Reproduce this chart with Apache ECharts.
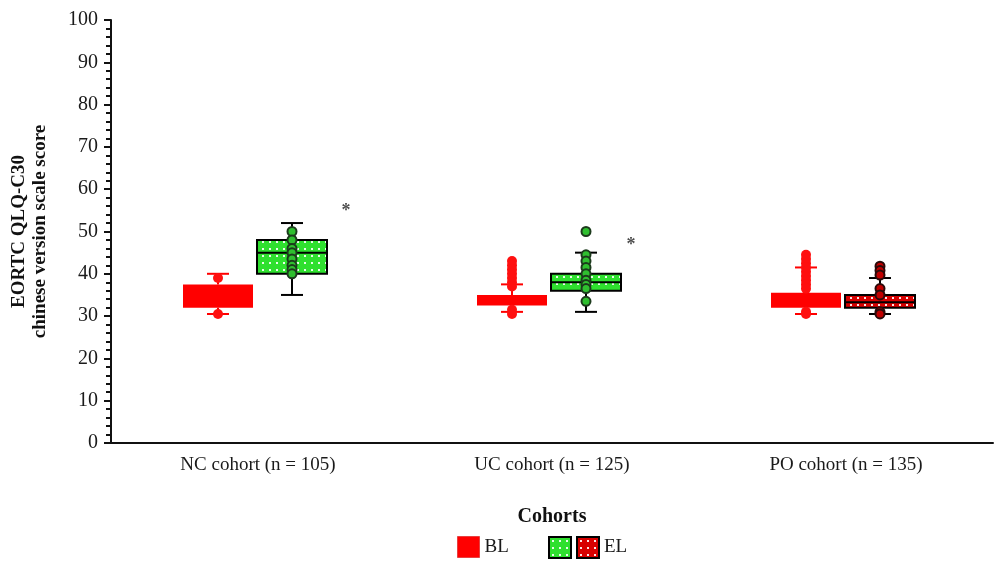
<!DOCTYPE html>
<html>
<head>
<meta charset="utf-8">
<script src="https://cdn.jsdelivr.net/npm/echarts@6/dist/echarts.min.js"></script>
<style>
  html, body { margin: 0; background: #fff; }
  #chart { width: 1000px; height: 562px; }
</style>
</head>
<body>
<div id="chart"></div>
<script>
// categories on the x axis
const categories = ['NC cohort (n = 105)', 'UC cohort (n = 125)', 'PO cohort (n = 135)']

// box summaries: [low, q1, median, q3, high]
const blBoxes = [
  [30.5, 32, 35, 37.5, 40],
  [31, 32.5, 33.5, 35, 37.5],
  [30.5, 32, 34, 35.5, 41.5]
]
const elBoxes = [
  [35, 40, 45, 48, 52],
  [31, 36, 38, 40, 45],
  [30.5, 32, 33.3, 35, 39]
]

// individual observations shown over the boxes: [category index, score]
const blPoints = [
  [0, 39], [0, 30.5],
  [1, 43], [1, 42], [1, 41], [1, 40], [1, 39], [1, 38], [1, 37], [1, 31.5], [1, 30.5],
  [2, 44.5], [2, 43.5], [2, 42.5], [2, 41.5], [2, 40.5], [2, 39.5], [2, 38.5], [2, 37.5], [2, 36.5], [2, 31], [2, 30.5]
]
const elGreenPoints = [
  [0, 50], [0, 48], [0, 46], [0, 45], [0, 43.5], [0, 42], [0, 41], [0, 40],
  [1, 50], [1, 44.5], [1, 43], [1, 41.5], [1, 40], [1, 38.5], [1, 37.5], [1, 36.5], [1, 33.5]
]
const elRedPoints = [
  [2, 41.8], [2, 40.8], [2, 39.7], [2, 36.5], [2, 35], [2, 31], [2, 30.5]
]

// significance asterisks: [category index, score]
const sigMarks = [[0, 55.5], [1, 47.5]]

const BL_OFFSET = -40
const EL_OFFSET = 34
const FONT = 'Liberation Serif'

const makePattern = (bg) => {
  const c = document.createElement('canvas')
  c.width = 7
  c.height = 7
  const ctx = c.getContext('2d')
  ctx.fillStyle = bg
  ctx.fillRect(0, 0, 7, 7)
  ctx.fillStyle = 'rgba(255,255,255,0.9)'
  ctx.fillRect(3, 3, 2, 2)
  return { image: c, repeat: 'repeat' }
}

const greenFill = makePattern('#2fe02f')
const redFill = makePattern('#d80000')

const boxRenderer = (offset, stroke, fill, border) => (params, api) => {
  const cat = api.value(0)
  const x = api.coord([cat, 0])[0] + offset
  const yLow = api.coord([cat, api.value(1)])[1]
  const yQ1 = api.coord([cat, api.value(2)])[1]
  const yMed = api.coord([cat, api.value(3)])[1]
  const yQ3 = api.coord([cat, api.value(4)])[1]
  const yHigh = api.coord([cat, api.value(5)])[1]
  const half = 35
  const cap = 11
  const ls = { stroke: stroke, lineWidth: 2 }
  return {
    type: 'group',
    children: [
      { type: 'line', shape: { x1: x, y1: yLow, x2: x, y2: yQ1 }, style: ls },
      { type: 'line', shape: { x1: x, y1: yQ3, x2: x, y2: yHigh }, style: ls },
      { type: 'line', shape: { x1: x - cap, y1: yLow, x2: x + cap, y2: yLow }, style: ls },
      { type: 'line', shape: { x1: x - cap, y1: yHigh, x2: x + cap, y2: yHigh }, style: ls },
      {
        type: 'rect',
        shape: { x: x - half, y: yQ3, width: half * 2, height: yQ1 - yQ3 },
        style: { fill: fill, stroke: border ? '#000' : null, lineWidth: border ? 2 : 0 }
      },
      { type: 'line', shape: { x1: x - half, y1: yMed, x2: x + half, y2: yMed }, style: ls }
    ]
  }
}

const chart = echarts.init(document.getElementById('chart'))

chart.setOption({
  backgroundColor: '#fff',
  animation: false,
  grid: { left: 111, right: 7, top: 20, bottom: 119, outerBoundsMode: 'none', containLabel: false },
  xAxis: {
    type: 'category',
    data: categories,
    name: 'Cohorts',
    nameLocation: 'middle',
    nameGap: 64,
    nameTextStyle: { fontFamily: FONT, fontSize: 20, fontWeight: 'bold', color: '#111' },
    axisLine: { lineStyle: { color: '#111', width: 2 } },
    axisTick: { alignWithLabel: true, length: 5, lineStyle: { color: '#111' } },
    axisLabel: { fontFamily: FONT, fontSize: 19, color: '#1a1a1a', margin: 13 }
  },
  yAxis: {
    type: 'value',
    min: 0,
    max: 100,
    interval: 10,
    name: 'EORTC QLQ-C30\nchinese version scale score',
    nameLocation: 'middle',
    nameGap: 60,
    nameTextStyle: { fontFamily: FONT, fontSize: 19, fontWeight: 'bold', color: '#111', lineHeight: 21 },
    axisLine: { show: true, lineStyle: { color: '#111', width: 2 } },
    axisTick: { show: true, length: 7, lineStyle: { color: '#111', width: 2 } },
    minorTick: { show: true, splitNumber: 5, length: 5, lineStyle: { color: '#111', width: 2 } },
    splitLine: { show: false },
    axisLabel: { fontFamily: FONT, fontSize: 20, color: '#1a1a1a', margin: 13 }
  },
  legend: [
    {
      left: 452,
      top: 531,
      itemWidth: 22,
      itemHeight: 21,
      textStyle: { fontFamily: FONT, fontSize: 19, color: '#1a1a1a' },
      data: [{ name: 'BL', icon: 'rect', itemStyle: { color: '#ff0000', borderColor: '#e84040', borderWidth: 1 } }]
    },
    {
      left: 543,
      top: 531,
      itemWidth: 22,
      itemHeight: 21,
      itemGap: 4,
      textStyle: { fontFamily: FONT, fontSize: 19, color: '#1a1a1a' },
      formatter: (n) => (n === 'EL' ? 'EL' : ''),
      data: [
        { name: 'EL-green', icon: 'rect', itemStyle: { color: greenFill, borderColor: '#000', borderWidth: 2 } },
        { name: 'EL', icon: 'rect', itemStyle: { color: redFill, borderColor: '#000', borderWidth: 2 } }
      ]
    }
  ],
  series: [
    {
      name: 'BL',
      type: 'custom',
      renderItem: boxRenderer(BL_OFFSET, '#ff0000', '#ff0000', false),
      itemStyle: { color: '#ff0000' },
      encode: { x: 0, y: [1, 2, 3, 4, 5] },
      data: blBoxes.map((b, i) => [i, ...b]),
      z: 2
    },
    {
      name: 'EL-green',
      type: 'custom',
      renderItem: boxRenderer(EL_OFFSET, '#000', greenFill, true),
      itemStyle: { color: greenFill },
      encode: { x: 0, y: [1, 2, 3, 4, 5] },
      data: elBoxes.slice(0, 2).map((b, i) => [i, ...b]),
      z: 2
    },
    {
      name: 'EL',
      type: 'custom',
      renderItem: boxRenderer(EL_OFFSET, '#000', redFill, true),
      itemStyle: { color: redFill },
      encode: { x: 0, y: [1, 2, 3, 4, 5] },
      data: [[2, ...elBoxes[2]]],
      z: 2
    },
    {
      name: 'BL',
      type: 'scatter',
      symbolSize: 10,
      symbolOffset: [BL_OFFSET, 0],
      itemStyle: { color: '#ff1010', opacity: 1 },
      data: blPoints,
      z: 5
    },
    {
      name: 'EL-green',
      type: 'scatter',
      symbolSize: 9,
      symbolOffset: [EL_OFFSET, 0],
      itemStyle: { color: '#2fbf2f', borderColor: '#1c3a1c', borderWidth: 2, opacity: 1 },
      data: elGreenPoints,
      z: 5
    },
    {
      name: 'EL',
      type: 'scatter',
      symbolSize: 9,
      symbolOffset: [EL_OFFSET, 0],
      itemStyle: { color: '#c00000', borderColor: '#2a0a0a', borderWidth: 2, opacity: 1 },
      data: elRedPoints,
      z: 5
    },
    {
      type: 'scatter',
      symbolSize: 0,
      silent: true,
      label: {
        show: true,
        formatter: '*',
        position: 'inside',
        fontFamily: FONT,
        fontSize: 18,
        fontWeight: 'bold',
        color: '#222'
      },
      data: [
        { value: sigMarks[0], label: { offset: [88, 3] } },
        { value: sigMarks[1], label: { offset: [79, 3] } }
      ],
      z: 6
    }
  ]
})
</script>
</body>
</html>
